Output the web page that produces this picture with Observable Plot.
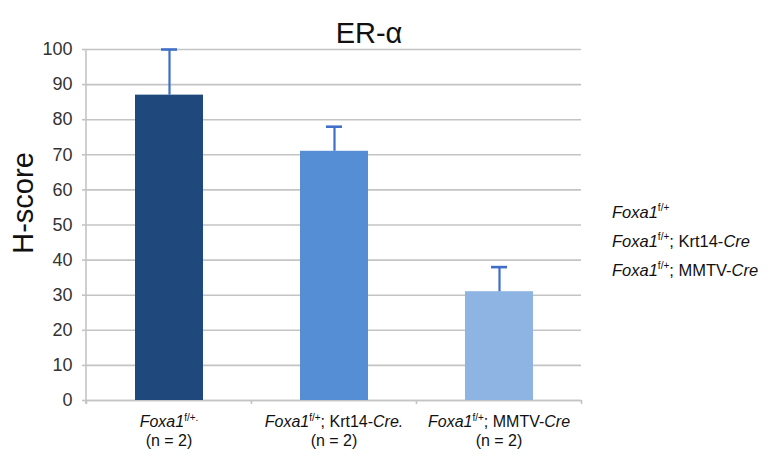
<!DOCTYPE html>
<html><head><meta charset="utf-8">
<script src="https://cdn.jsdelivr.net/npm/d3@7"></script>
<script src="https://cdn.jsdelivr.net/npm/@observablehq/plot@0.6"></script>
<style>body{margin:0;background:#fff;} #chart{width:769px;height:456px;}</style>
</head><body><div id="chart"></div>
<script>
const groups = ["Foxa1 f/+", "Foxa1 f/+; Krt14-Cre", "Foxa1 f/+; MMTV-Cre"];
const hscore = [87, 71, 31];
const errorPlus = [13, 7, 7];
const yTicks = [0, 10, 20, 30, 40, 50, 60, 70, 80, 90, 100];
const barColors = ["#1F497D", "#558ED5", "#8DB4E2"];
const errColor = "#3F6FC8";
const title = "ER-α";
const yLabel = "H-score";
const labelLine1 = [
  [["Foxa1", "i"], ["f/+.", "sup"]],
  [["Foxa1", "i"], ["f/+", "sup"], ["; Krt14-", ""], ["Cre.", "i"]],
  [["Foxa1", "i"], ["f/+", "sup"], ["; MMTV-", ""], ["Cre", "i"]]
];
const labelLine2 = ["(n = 2)", "(n = 2)", "(n = 2)"];
const legendLines = [
  [["Foxa1", "i"], ["f/+", "sup"]],
  [["Foxa1", "i"], ["f/+", "sup"], ["; Krt14-", ""], ["Cre", "i"]],
  [["Foxa1", "i"], ["f/+", "sup"], ["; MMTV-", ""], ["Cre", "i"]]
];

const data = groups.map((g, i) => ({g, v: hscore[i], hi: hscore[i] + errorPlus[i]}));
const font = "'Liberation Sans', Arial, sans-serif";
const gridColor = "#c4c4c4";

const plot = Plot.plot({
  width: 769, height: 456,
  marginLeft: 86, marginRight: 188, marginTop: 49, marginBottom: 56,
  style: {fontFamily: font, background: "#fff", overflow: "visible"},
  x: {domain: groups, paddingInner: 0.59, paddingOuter: 0.295, axis: null},
  y: {domain: [0, 100], label: null, axis: null},
  color: {domain: groups, range: barColors},
  marks: [
    Plot.gridY(yTicks, {stroke: gridColor, strokeOpacity: 1, strokeWidth: 1.6}),
    Plot.axisY(yTicks, {tickSize: 4, tickPadding: 10, fontSize: 18, stroke: gridColor, strokeWidth: 1.6, fill: "#333", label: null}),
    Plot.ruleY([0], {stroke: gridColor, strokeWidth: 1.6}),
    Plot.barY(data, {x: "g", y: "v", fill: "g"}),
    Plot.ruleX(data, {x: "g", y1: "v", y2: "hi", stroke: errColor, strokeWidth: 2.2}),
    Plot.tickY(data, {x: "g", y: "hi", stroke: errColor, strokeWidth: 2.6, insetLeft: 26, insetRight: 26}),
    Plot.text([title], {frameAnchor: "top", dy: -27, dx: 35, fontSize: 29, fill: "#111"}),
    Plot.text([yLabel], {frameAnchor: "left", textAnchor: "middle", rotate: -90, dx: -63, dy: -22, fontSize: 29, fill: "#111"})
  ]
});

const svg = d3.select(plot);
const xs = plot.scale("x");
const ys = plot.scale("y");
const y0 = ys.apply(0), yTop = ys.apply(100);
const step = xs.step, bw = xs.bandwidth;
// left axis line
svg.append("line").attr("x1", xs.range[0]).attr("x2", xs.range[0]).attr("y1", yTop).attr("y2", y0 + 4)
  .attr("stroke", gridColor).attr("stroke-width", 1.6);
// band boundary ticks
const bounds = groups.map(g => xs.apply(g) - (step - bw) / 2).concat([xs.apply(groups[groups.length - 1]) + bw + (step - bw) / 2]);
bounds.forEach(b => svg.append("line").attr("x1", b).attr("x2", b).attr("y1", y0).attr("y2", y0 + 4)
  .attr("stroke", gridColor).attr("stroke-width", 1.6));

function rich(textSel, parts, size) {
  const supSize = Math.round(size * 0.62), shift = Math.round(size * 0.4);
  let raised = false;
  parts.forEach(([t, s]) => {
    const ts = textSel.append("tspan").text(t);
    if (s === "i") ts.attr("font-style", "italic");
    if (s === "sup") { ts.attr("font-size", supSize).attr("dy", -shift); raised = true; }
    else if (raised) { ts.attr("dy", shift); raised = false; }
  });
}

const lblSize = 16.5;
const tickLblSize = 16;
groups.forEach((g, i) => {
  const cx = xs.apply(g) + bw / 2;
  const t1 = svg.append("text").attr("x", cx).attr("y", y0 + 27).attr("text-anchor", "middle")
    .attr("font-family", font).attr("font-size", tickLblSize).attr("fill", "#111");
  rich(t1, labelLine1[i], tickLblSize);
  svg.append("text").attr("x", cx).attr("y", y0 + 45.5).attr("text-anchor", "middle")
    .attr("font-family", font).attr("font-size", tickLblSize).attr("fill", "#111").text(labelLine2[i]);
});

const legX = xs.range[1] + 31;
legendLines.forEach((parts, i) => {
  const t = svg.append("text").attr("x", legX).attr("y", ys.apply(50) - 7 + i * 29)
    .attr("text-anchor", "start")
    .attr("font-family", font).attr("font-size", lblSize).attr("fill", "#111");
  rich(t, parts, lblSize);
});

document.getElementById("chart").appendChild(plot);
</script></body></html>
